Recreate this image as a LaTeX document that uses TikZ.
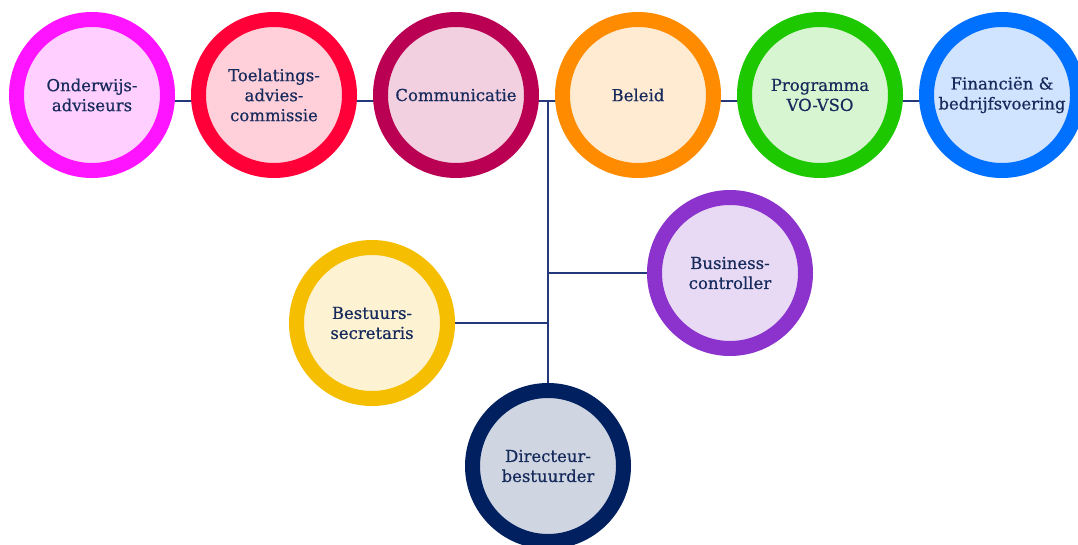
\documentclass[tikz,border=0pt]{standalone}
\usepackage{fontspec}
\setmainfont{DejaVu Serif}
\newfontfamily\orgfont[FakeBold=0.6]{DejaVu Serif}
\usetikzlibrary{backgrounds,calc}
\definecolor{textc}{HTML}{172A5C}
\definecolor{linec}{HTML}{24387A}
\definecolor{r1}{HTML}{FF14FF}\definecolor{f1}{HTML}{FFD0FF}
\definecolor{r2}{HTML}{FF0038}\definecolor{f2}{HTML}{FFD0DA}
\definecolor{r3}{HTML}{BA0052}\definecolor{f3}{HTML}{F2D0E0}
\definecolor{r4}{HTML}{FF8C00}\definecolor{f4}{HTML}{FFEBD2}
\definecolor{r5}{HTML}{1EC800}\definecolor{f5}{HTML}{D6F5D0}
\definecolor{r6}{HTML}{0070FF}\definecolor{f6}{HTML}{D0E3FF}
\definecolor{r7}{HTML}{8B33CC}\definecolor{f7}{HTML}{E8DAF4}
\definecolor{r8}{HTML}{F5BE00}\definecolor{f8}{HTML}{FDF2D2}
\definecolor{r9}{HTML}{00205F}\definecolor{f9}{HTML}{CFD6E2}
\tikzset{
  org/.style n args={2}{circle, draw=#1, fill=#2, line width=15pt,
    minimum size=151pt, inner sep=0pt, align=center, text=textc,
    font=\orgfont\fontsize{16.5}{20}\selectfont},
  conn/.style={draw=linec, line width=2pt}
}
\begin{document}
\begin{tikzpicture}[x=1pt,y=-1pt]
\useasboundingbox (0,0) rectangle (1078,544);
\node[org={r1}{f1}] (ond) at (92,95) {Onderwijs-\\adviseurs};
\node[org={r2}{f2}] (toe) at (274,95) {Toelatings-\\advies-\\commissie};
\node[org={r3}{f3}] (com) at (456,95) {Communicatie};
\node[org={r4}{f4}] (bel) at (638,95) {Beleid};
\node[org={r5}{f5}] (pro) at (820,95) {Programma\\VO-VSO};
\node[org={r6}{f6}] (fin) at (1002,95) {Financiën \&\\bedrijfsvoering};
\node[org={r7}{f7}] (bus) at (730,273) {Business-\\controller};
\node[org={r8}{f8}] (bes) at (372,323) {Bestuurs-\\secretaris};
\node[org={r9}{f9}] (dir) at (548,466) {Directeur-\\bestuurder};
\coordinate (top) at ($(dir.center |- ond.center)+(0,6)$);
\begin{pgfonlayer}{background}
\draw[conn] ([yshift=-6pt]ond.center) -- ([yshift=-6pt]fin.center);
\draw[conn] (dir.center) -- (top);
\draw[conn] (bes.center) -- (dir.center |- bes.center);
\draw[conn] (bus.center) -- (dir.center |- bus.center);
\end{pgfonlayer}
\end{tikzpicture}
\end{document}
